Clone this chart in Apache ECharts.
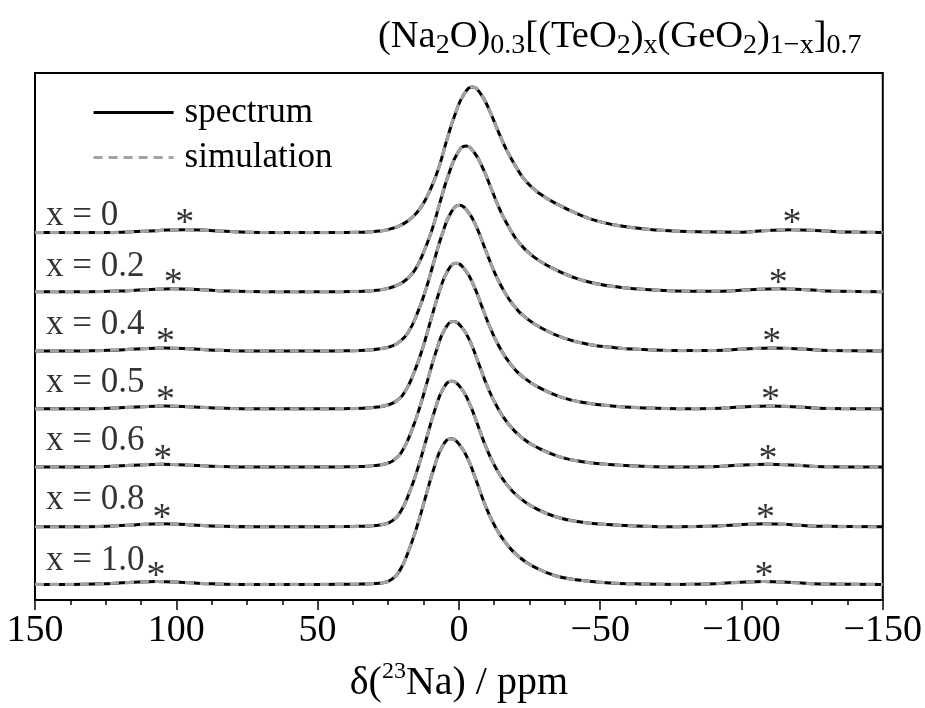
<!DOCTYPE html>
<html><head><meta charset="utf-8">
<script src="https://cdn.jsdelivr.net/npm/echarts@6/dist/echarts.min.js"></script>
<style>html,body{margin:0;padding:0;background:#fff}#c{width:925px;height:708px}</style>
</head><body><div id="c"></div>
<script>
// ---- data ----
const compositions = ['x = 0','x = 0.2','x = 0.4','x = 0.5','x = 0.6','x = 0.8','x = 1.0'];
// vertical offsets of each trace (intensity units, peak height = 100)
const offsets = [252.4, 211.8, 171.1, 131.3, 91.3, 50.3, 10.7];
// spinning sideband marker positions (ppm)
const starLeft  = [97, 101.1, 103.8, 103.8, 104.8, 105.1, 107.2];
const starRight = [-117.9, -113, -110.7, -110.3, -109.4, -108.5, -108];

const spec_x00 = [[150,0],[125,0],[117,0.4],[107,1.3],[97,2],[87,1.3],[77,0.4],[65,0],[45.2,0],[35.2,0.2],[28.2,1],[23.2,3],[19.2,6.5],[16.2,11],[13.2,18],[10.2,29],[7.2,44],[4.2,64],[1.2,82],[-1.8,95],[-4.8,100],[-7.8,95],[-10.8,84],[-13.8,70],[-16.8,57],[-19.8,46.5],[-23.8,35],[-28.8,26.5],[-34.8,19.5],[-41.8,13],[-49.8,7.5],[-59.8,3.8],[-69.8,1.8],[-84.8,0.5],[-99.8,0.2],[-108,1.3],[-118,2],[-128,1.3],[-138,0.3],[-150,0]];
const spec_x02 = [[150,0],[131,0],[121,0.4],[111,1.3],[101,2],[91,1.3],[81,0.4],[68,0],[47.5,0],[37.5,0.15],[30.5,0.7],[25.5,2.1],[21.5,4.6],[18.5,8.4],[15.5,15],[12.5,27],[9.5,42.6],[6.5,62.6],[3.5,81.3],[0.5,95],[-2.5,100],[-5.5,95.4],[-8.5,84.7],[-11.5,70.5],[-14.5,56.3],[-17.5,44.9],[-21.5,33.1],[-26.5,23.9],[-32.5,16.7],[-39.5,10.6],[-47.5,5.9],[-57.5,2.9],[-67.5,1.3],[-82.5,0.33],[-93,0.3],[-103,1.3],[-113,2],[-123,1.3],[-133,0.3],[-150,0]];
const spec_x04 = [[150,0],[134,0],[124,0.4],[114,1.3],[104,2],[94,1.3],[84,0.4],[70,0],[49.8,0],[39.8,0.14],[32.8,0.5],[27.8,1.5],[23.8,3.3],[20.8,6.5],[17.8,13.2],[14.8,25.4],[11.8,41.6],[8.8,61.6],[5.8,80.8],[2.8,95],[-0.2,100],[-3.2,95.6],[-6.2,85.2],[-9.2,70.5],[-12.2,55.8],[-15.2,43.8],[-19.2,31.7],[-24.2,22],[-30.2,14.7],[-37.2,8.8],[-45.2,4.8],[-55.2,2.2],[-65.2,0.96],[-80.2,0.2],[-91,0.3],[-101,1.3],[-111,2],[-121,1.3],[-131,0.3],[-150,0]];
const spec_x05 = [[150,0],[134,0],[124,0.4],[114,1.3],[104,2],[94,1.3],[84,0.4],[70,0],[50.9,0],[40.9,0.13],[33.9,0.44],[28.9,1.25],[24.9,2.8],[21.9,5.75],[18.9,12.4],[15.9,24.8],[12.9,41.2],[9.9,61.2],[6.9,80.6],[3.9,95],[0.9,100],[-2.1,95.7],[-5.1,85.4],[-8.1,70.5],[-11.1,55.6],[-14.1,43.4],[-18.1,31.2],[-23.1,21.3],[-29.1,13.9],[-36.1,8.1],[-44.1,4.35],[-54.1,2],[-64.1,0.8],[-79.1,0.15],[-90,0.3],[-100,1.3],[-110,2],[-120,1.3],[-130,0.3],[-150,0]];
const spec_x06 = [[150,0],[135,0],[125,0.4],[115,1.3],[105,2],[95,1.3],[85,0.4],[71,0],[51.9,0],[41.9,0.12],[34.9,0.36],[29.9,1],[25.9,2.3],[22.9,5],[19.9,11.6],[16.9,24.2],[13.9,40.8],[10.9,60.8],[7.9,80.4],[4.9,95],[1.9,100],[-1.1,95.8],[-4.1,85.6],[-7.1,70.6],[-10.1,55.4],[-13.1,42.9],[-17.1,30.6],[-22.1,20.5],[-28.1,13.1],[-35.1,7.4],[-43.1,3.9],[-53.1,1.7],[-63.1,0.7],[-78.1,0.1],[-89,0.3],[-99,1.3],[-109,2],[-119,1.3],[-129,0.3],[-150,0]];
const spec_x08 = [[150,0],[135,0],[125,0.4],[115,1.3],[105,2],[95,1.3],[85,0.4],[71,0],[52.5,0],[42.5,0.11],[35.5,0.28],[30.5,0.75],[26.5,1.75],[23.5,4.25],[20.5,10.8],[17.5,23.6],[14.5,40.4],[11.5,60.4],[8.5,80.2],[5.5,95],[2.5,100],[-0.5,95.9],[-3.5,85.8],[-6.5,70.8],[-9.5,55.2],[-12.5,42.5],[-16.5,30.1],[-21.5,19.8],[-27.5,12.3],[-34.5,6.7],[-42.5,3.45],[-52.5,1.5],[-62.5,0.55],[-77.5,0.05],[-88.5,0.3],[-98.5,1.3],[-108.5,2],[-118.5,1.3],[-128.5,0.3],[-150,0]];
const spec_x10 = [[150,0],[137,0],[127,0.4],[117,1.3],[107,2],[97,1.3],[87,0.4],[73,0],[52.8,0],[42.8,0.1],[35.8,0.2],[30.8,0.5],[26.8,1.2],[23.8,3.5],[20.8,10],[17.8,23],[14.8,40],[11.8,60],[8.8,80],[5.8,95],[2.8,100],[-0.2,96],[-3.2,86],[-6.2,71],[-9.2,55],[-12.2,42],[-16.2,29.5],[-21.2,19],[-27.2,11.5],[-34.2,6],[-42.2,3],[-52.2,1.2],[-62.2,0.4],[-77.2,0],[-88,0.3],[-98,1.3],[-108,2],[-118,1.3],[-128,0.3],[-150,0]];
// the fitted simulations overlay the spectra
const spectra = [spec_x00, spec_x02, spec_x04, spec_x05, spec_x06, spec_x08, spec_x10];
const simulations = [spec_x00, spec_x02, spec_x04, spec_x05, spec_x06, spec_x08, spec_x10];

// ---- layout ----
const FONT = '"Liberation Serif","Times New Roman",serif';
const yMax = 362;
const pxPerUnit = 530 / yMax;
const labelLiftPx = [17, 25, 26, 26, 26, 27, 24];
const starLiftPx = [15.5, 14.5, 14.5, 14.5, 14.5, 14.5, 14.5];
const labelPpm = 146.1;

const series = [];
spectra.forEach((s, i) => {
  series.push({
    type: 'line', name: 'spectrum', symbol: 'none', showSymbol: false,
    smooth: 0.5, silent: true, z: 2,
    data: s.map(([p, v]) => [p, v + offsets[i]]),
    lineStyle: { color: '#000', width: 3 }, itemStyle: { color: '#000' }
  });
});
simulations.forEach((s, i) => {
  series.push({
    type: 'line', name: 'simulation', symbol: 'none', showSymbol: false,
    smooth: 0.5, silent: true, z: 3,
    data: s.map(([p, v]) => [p, v + offsets[i]]),
    lineStyle: { color: '#a3a3a3', width: 3.2, type: [9, 6] }, itemStyle: { color: '#a3a3a3' }
  });
});
series.push({
  type: 'scatter', name: 'labels', silent: true, z: 5,
  symbolSize: 1, itemStyle: { color: 'rgba(0,0,0,0)' },
  data: compositions.map((t, i) => ({ name: t, value: [labelPpm, offsets[i] + labelLiftPx[i] / pxPerUnit] })),
  label: { show: true, formatter: '{b}', position: 'inside', align: 'left', verticalAlign: 'middle',
           fontFamily: FONT, fontSize: 35, color: '#000' }
});
const starData = [];
offsets.forEach((o, i) => {
  starData.push([starLeft[i], o + starLiftPx[i] / pxPerUnit]);
  starData.push([starRight[i], o + starLiftPx[i] / pxPerUnit]);
});
series.push({
  type: 'scatter', name: 'sidebands', silent: true, z: 5,
  symbolSize: 1, itemStyle: { color: 'rgba(0,0,0,0)' },
  data: starData,
  label: { show: true, formatter: '*', position: 'inside', align: 'center', verticalAlign: 'middle',
           offset: [0, 7], fontFamily: FONT, fontSize: 38, color: '#000' }
});

const chart = echarts.init(document.getElementById('c'), null, { renderer: 'canvas' });
chart.setOption({
  animation: false,
  backgroundColor: '#fff',
  title: {
    text: '{n|(Na}{s|2}{n|O)}{s|0.3}{n|[(TeO}{s|2}{n|)}{s|x}{n|(GeO}{s|2}{n|)}{s|1−x}{n|]}{s|0.7}',
    left: 378, top: 14, padding: 0,
    textStyle: {
      fontFamily: FONT, fontWeight: 'normal', color: '#000',
      rich: {
        n: { fontFamily: FONT, fontSize: 38.5, color: '#000', lineHeight: 46 },
        s: { fontFamily: FONT, fontSize: 28, color: '#000', verticalAlign: 'bottom', lineHeight: 22 }
      }
    }
  },
  legend: {
    data: ['spectrum', 'simulation'], orient: 'vertical', left: 92, top: 95, padding: 0,
    itemWidth: 80, itemHeight: 14, itemGap: 10, selectedMode: false,
    itemStyle: { opacity: 0 },
    lineStyle: { width: 3.2 },
    textStyle: { fontFamily: FONT, fontSize: 35, lineHeight: 35, color: '#000', padding: [0, 0, 0, 6] }
  },
  grid: { left: 35, right: 41, top: 73, bottom: 105, show: true, borderColor: '#000', borderWidth: 2, backgroundColor: 'transparent' },
  xAxis: {
    type: 'value', min: -150, max: 150, interval: 50, inverse: true,
    axisLine: { lineStyle: { color: '#000', width: 2 } },
    axisTick: { show: true, inside: false, length: 10, lineStyle: { color: '#000', width: 1.5 } },
    minorTick: { show: true, splitNumber: 4, length: 5, lineStyle: { color: '#000', width: 1.5 } },
    splitLine: { show: false },
    axisLabel: { margin: 12, fontFamily: FONT, fontSize: 38, color: '#000',
                 formatter: v => (v < 0 ? '−' + Math.abs(v) : String(v)) },
    name: '{a|δ(}{s|23}{a|Na) / ppm}', nameLocation: 'middle', nameGap: 60,
    nameTextStyle: {
      fontFamily: FONT, fontSize: 40, color: '#000',
      rich: {
        a: { fontFamily: FONT, fontSize: 40, color: '#000', lineHeight: 46 },
        s: { fontFamily: FONT, fontSize: 24, color: '#000', verticalAlign: 'top', lineHeight: 24 }
      }
    }
  },
  yAxis: { type: 'value', min: 0, max: yMax, show: false, splitLine: { show: false } },
  series: series
});
</script>
</body></html>
